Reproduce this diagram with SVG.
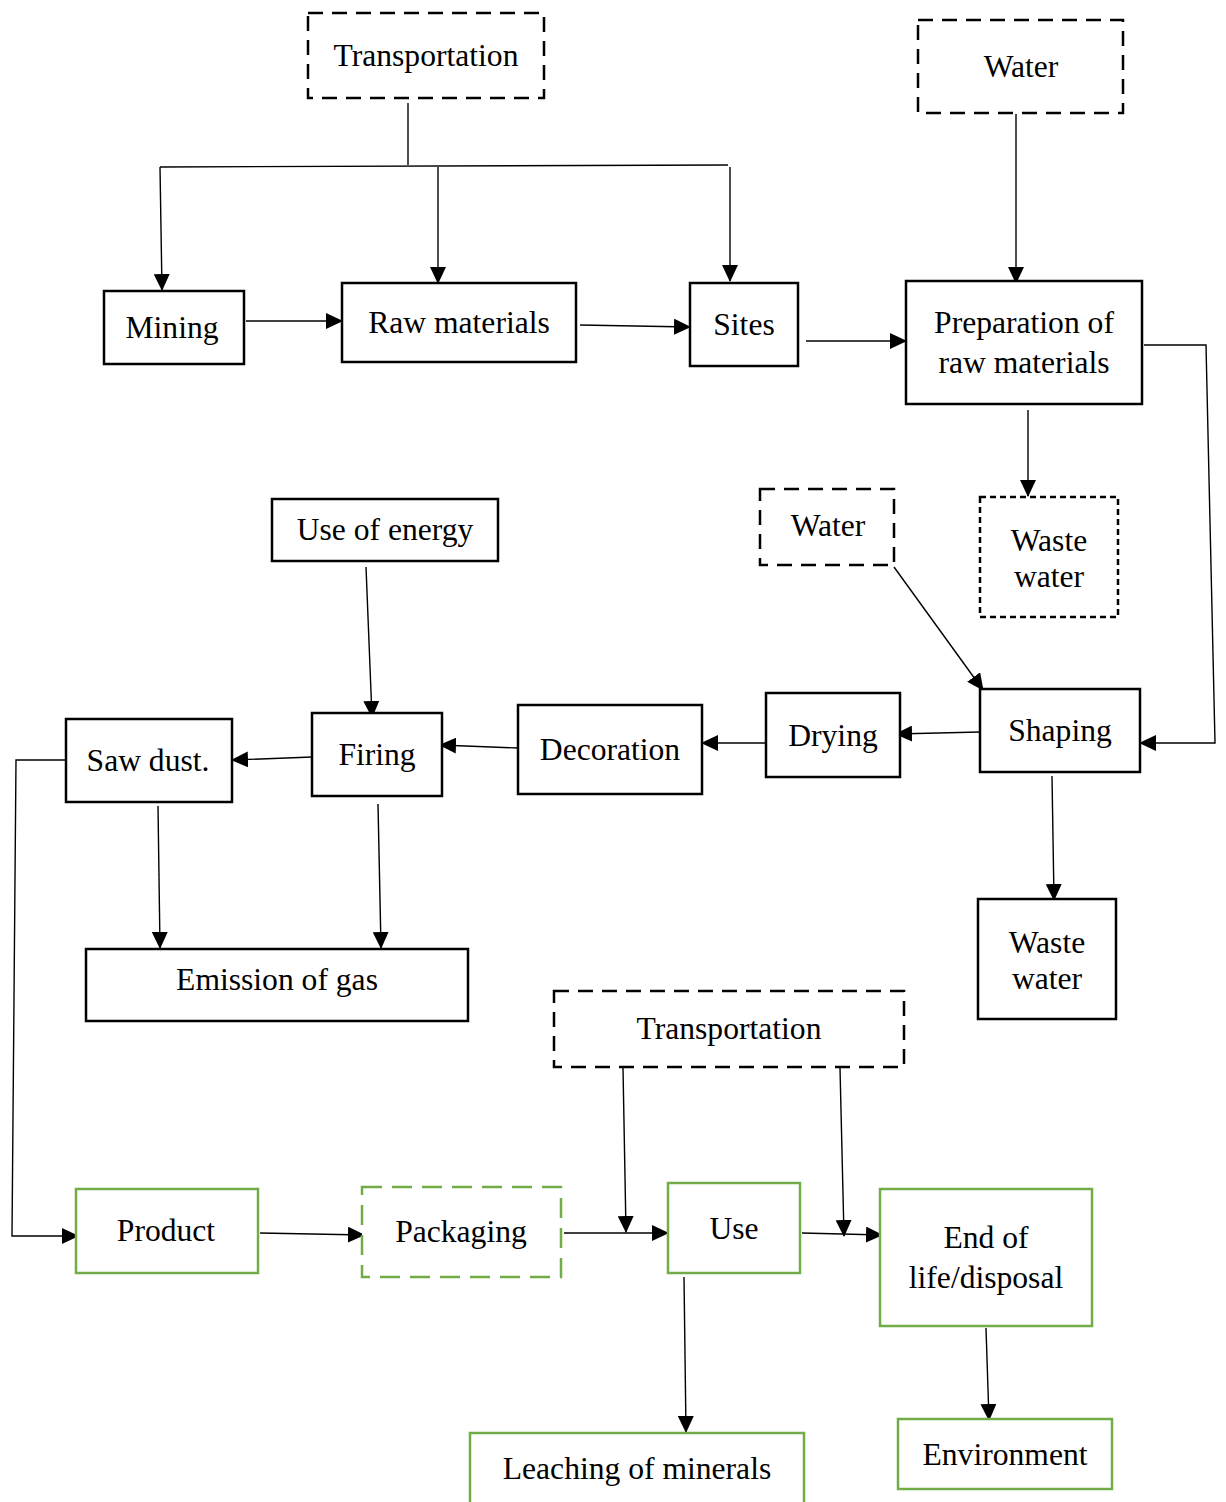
<svg xmlns="http://www.w3.org/2000/svg" width="1226" height="1502" viewBox="0 0 1226 1502">
  <style>
    .box { fill: #fff; stroke: #000; stroke-width: 2.5; }
    .dash { stroke-dasharray: 15 9; }
    .dot { stroke-dasharray: 6 4; }
    .green { fill: #fff; stroke: #70AD47; stroke-width: 2.5; }
    .gdash { stroke-dasharray: 20 10; }
    .lbl { font-family: "Liberation Serif", "Times New Roman", serif; font-size: 31.6px; fill: #000; text-anchor: middle; }
    .wire { fill: none; stroke: #000; stroke-width: 1.4; }
  </style>
  <defs>
    <marker id="arr" markerUnits="userSpaceOnUse" markerWidth="17" markerHeight="16" refX="16" refY="8" orient="auto">
      <path d="M0,0 L17,8 L0,16 Z" fill="#000"/>
    </marker>
  </defs>

  <rect width="1226" height="1502" fill="#fff"/>

  <g id="connectors">
    <!-- transport feed to mining, raw materials, sites -->
    <path class="wire" d="M408,103 L408,165"/>
    <path class="wire" d="M160,167 L728,165"/>
    <path class="wire" marker-end="url(#arr)" d="M160,167 L162,290"/>
    <path class="wire" marker-end="url(#arr)" d="M438,167 L438,283"/>
    <path class="wire" marker-end="url(#arr)" d="M730,167 L730,281"/>
    <!-- main chain, top row -->
    <path class="wire" marker-end="url(#arr)" d="M246,321 L342,321"/>
    <path class="wire" marker-end="url(#arr)" d="M580,325 L690,327"/>
    <path class="wire" marker-end="url(#arr)" d="M806,341 L906,341"/>
    <path class="wire" marker-end="url(#arr)" d="M1016,114 L1016,283"/>
    <path class="wire" marker-end="url(#arr)" d="M1028,410 L1028,496"/>
    <path class="wire" marker-end="url(#arr)" d="M1144,345 L1206,345 L1215,743 L1140,743"/>
    <!-- middle row -->
    <path class="wire" marker-end="url(#arr)" d="M894,567 L983,690"/>
    <path class="wire" marker-end="url(#arr)" d="M980,732 L896,734"/>
    <path class="wire" marker-end="url(#arr)" d="M766,743 L702,743"/>
    <path class="wire" marker-end="url(#arr)" d="M518,748 L440,745"/>
    <path class="wire" marker-end="url(#arr)" d="M312,757 L232,760"/>
    <path class="wire" marker-end="url(#arr)" d="M366,567 L372,717"/>
    <path class="wire" marker-end="url(#arr)" d="M158,806 L160,948"/>
    <path class="wire" marker-end="url(#arr)" d="M378,804 L381,948"/>
    <path class="wire" marker-end="url(#arr)" d="M1052,776 L1054,900"/>
    <!-- bottom row -->
    <path class="wire" marker-end="url(#arr)" d="M66,760 L16,760 L12,1236 L78,1236"/>
    <path class="wire" marker-end="url(#arr)" d="M260,1233 L364,1235"/>
    <path class="wire" marker-end="url(#arr)" d="M564,1233 L668,1233"/>
    <path class="wire" marker-end="url(#arr)" d="M623,1068 L626,1232"/>
    <path class="wire" marker-end="url(#arr)" d="M802,1233 L882,1235"/>
    <path class="wire" marker-end="url(#arr)" d="M840,1068 L844,1236"/>
    <path class="wire" marker-end="url(#arr)" d="M684,1277 L686,1432"/>
    <path class="wire" marker-end="url(#arr)" d="M986,1328 L989,1420"/>
  </g>

  <g id="transportation-top">
    <rect class="box dash" x="308" y="13" width="236" height="85"/>
    <text class="lbl" x="426" y="66">Transportation</text>
  </g>
  <g id="water-top">
    <rect class="box dash" x="918" y="20" width="205" height="93"/>
    <text class="lbl" x="1021" y="77">Water</text>
  </g>
  <g id="mining">
    <rect class="box" x="104" y="291" width="140" height="73"/>
    <text class="lbl" x="172" y="338">Mining</text>
  </g>
  <g id="raw-materials">
    <rect class="box" x="342" y="283" width="234" height="79"/>
    <text class="lbl" x="459" y="333">Raw materials</text>
  </g>
  <g id="sites">
    <rect class="box" x="690" y="283" width="108" height="83"/>
    <text class="lbl" x="744" y="335">Sites</text>
  </g>
  <g id="preparation">
    <rect class="box" x="906" y="281" width="236" height="123"/>
    <text class="lbl" x="1024" y="333">Preparation of</text>
    <text class="lbl" x="1024" y="373">raw materials</text>
  </g>
  <g id="waste-water-1">
    <rect class="box dot" x="980" y="497" width="138" height="120"/>
    <text class="lbl" x="1049" y="551">Waste</text>
    <text class="lbl" x="1049" y="587">water</text>
  </g>
  <g id="water-mid">
    <rect class="box dash" x="760" y="489" width="134" height="76"/>
    <text class="lbl" x="828" y="536">Water</text>
  </g>
  <g id="use-of-energy">
    <rect class="box" x="272" y="499" width="226" height="62"/>
    <text class="lbl" x="385" y="540">Use of energy</text>
  </g>
  <g id="shaping">
    <rect class="box" x="980" y="689" width="160" height="83"/>
    <text class="lbl" x="1060" y="741">Shaping</text>
  </g>
  <g id="drying">
    <rect class="box" x="766" y="693" width="134" height="84"/>
    <text class="lbl" x="833" y="746">Drying</text>
  </g>
  <g id="decoration">
    <rect class="box" x="518" y="705" width="184" height="89"/>
    <text class="lbl" x="610" y="760">Decoration</text>
  </g>
  <g id="firing">
    <rect class="box" x="312" y="713" width="130" height="83"/>
    <text class="lbl" x="377" y="765">Firing</text>
  </g>
  <g id="saw-dust">
    <rect class="box" x="66" y="719" width="166" height="83"/>
    <text class="lbl" x="148" y="771">Saw dust.</text>
  </g>
  <g id="emission-of-gas">
    <rect class="box" x="86" y="949" width="382" height="72"/>
    <text class="lbl" x="277" y="990">Emission of gas</text>
  </g>
  <g id="waste-water-2">
    <rect class="box" x="978" y="899" width="138" height="120"/>
    <text class="lbl" x="1047" y="953">Waste</text>
    <text class="lbl" x="1047" y="989">water</text>
  </g>
  <g id="transportation-bottom">
    <rect class="box dash" x="554" y="991" width="350" height="76"/>
    <text class="lbl" x="729" y="1039">Transportation</text>
  </g>
  <g id="product">
    <rect class="green" x="76" y="1189" width="182" height="84"/>
    <text class="lbl" x="166" y="1241">Product</text>
  </g>
  <g id="packaging">
    <rect class="green gdash" x="362" y="1187" width="199" height="90"/>
    <text class="lbl" x="461" y="1242">Packaging</text>
  </g>
  <g id="use">
    <rect class="green" x="668" y="1183" width="132" height="90"/>
    <text class="lbl" x="734" y="1239">Use</text>
  </g>
  <g id="end-of-life">
    <rect class="green" x="880" y="1189" width="212" height="137"/>
    <text class="lbl" x="986" y="1248">End of</text>
    <text class="lbl" x="986" y="1288">life/disposal</text>
  </g>
  <g id="leaching">
    <rect class="green" x="470" y="1433" width="334" height="80"/>
    <text class="lbl" x="637" y="1479">Leaching of minerals</text>
  </g>
  <g id="environment">
    <rect class="green" x="898" y="1419" width="214" height="70"/>
    <text class="lbl" x="1005" y="1465">Environment</text>
  </g>
</svg>
